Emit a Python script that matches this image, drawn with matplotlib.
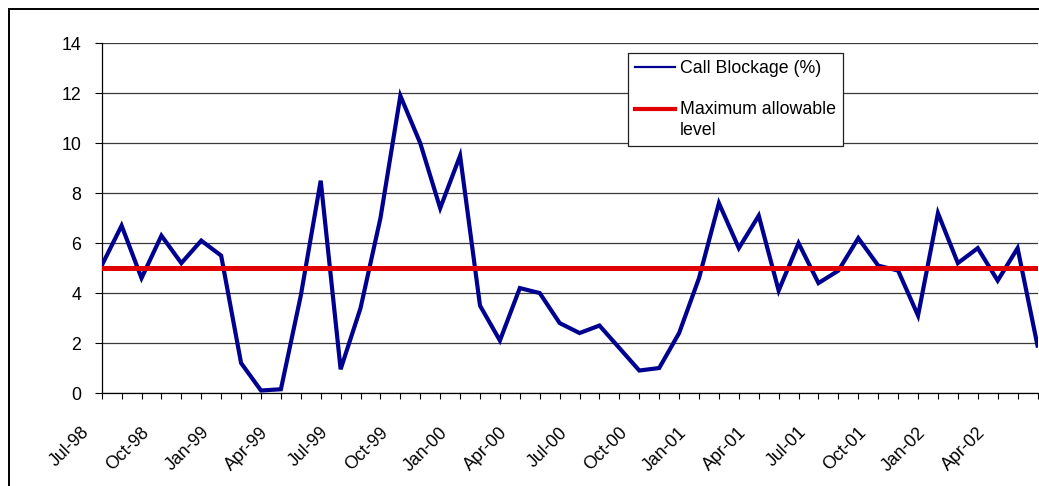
import matplotlib
matplotlib.use('Agg')
import matplotlib.pyplot as plt
from matplotlib.lines import Line2D
from matplotlib.legend_handler import HandlerLine2D
from matplotlib.patches import Rectangle

plt.rcParams['font.family'] = ['Liberation Sans', 'DejaVu Sans']

# Monthly call blockage, Jul-98 .. Jun-02
blockage = [5.1, 6.7, 4.6, 6.3, 5.2, 6.1,
            5.5, 1.2, 0.1, 0.15, 3.9, 8.5, 0.95, 3.4, 7.0, 11.9, 10.0, 7.4,
            9.5, 3.5, 2.1, 4.2, 4.0, 2.8, 2.4, 2.7, 1.8, 0.9, 1.0, 2.4,
            4.6, 7.6, 5.8, 7.1, 4.1, 6.0, 4.4, 4.9, 6.2, 5.1, 4.9, 3.1,
            7.2, 5.2, 5.8, 4.5, 5.8, 1.9]
max_level = 5
quarter_labels = ['Jul-98', 'Oct-98', 'Jan-99', 'Apr-99', 'Jul-99', 'Oct-99',
                  'Jan-00', 'Apr-00', 'Jul-00', 'Oct-00', 'Jan-01', 'Apr-01',
                  'Jul-01', 'Oct-01', 'Jan-02', 'Apr-02']
y_ticks = [0, 2, 4, 6, 8, 10, 12, 14]

FS = 12.8
W, H = 1039, 486
fig = plt.figure(figsize=(W / 100, H / 100), dpi=100)
ax = fig.add_axes([101.7 / W, 93 / H, (1037.5 - 101.7) / W, 349.7 / H])

months = list(range(len(blockage)))
ax.plot(months, blockage, color='#000090', lw=3.0, solid_joinstyle='miter',
        zorder=3)
ax.axhline(max_level, color='#e00000', lw=3.6, zorder=4)

ax.set_xlim(0, len(blockage) - 1)
ax.set_ylim(0, 14)
ax.set_yticks(y_ticks)
ax.set_xticks(months)
ax.set_xticklabels([])
ax.grid(axis='y', color='#3a3a3a', lw=0.9)
ax.set_axisbelow(True)
for side in ('top', 'right'):
    ax.spines[side].set_visible(False)
for side in ('left', 'bottom'):
    ax.spines[side].set_linewidth(0.9)
ax.tick_params(axis='x', direction='out', length=4.3, width=0.8)
ax.tick_params(axis='y', direction='out', length=4.8, width=0.8, pad=10,
               labelsize=FS)

# quarterly labels, slanted, hanging below the tick
for i, lab in zip(range(0, len(blockage), 3), quarter_labels):
    ax.annotate(lab, xy=(i, 0), xycoords=('data', 'axes fraction'),
                xytext=(-10.6, -26.6), textcoords='offset points',
                rotation=45, ha='right', va='center',
                rotation_mode='anchor', fontsize=FS)


def raise_to_first_line(legend_handle, orig_handle):
    legend_handle.update_from(orig_handle)
    legend_handle.set_ydata([y + 7.9 for y in legend_handle.get_ydata()])


h_blue = Line2D([], [], color='#000090', lw=1.6)
h_red = Line2D([], [], color='#e00000', lw=3.0)
leg = fig.legend([h_blue, h_red], ['Call Blockage (%)', 'Maximum allowable\nlevel'],
                 loc='upper left', bbox_to_anchor=(628 / W, 1 - 53.3 / H),
                 borderaxespad=0, fontsize=FS, frameon=True, fancybox=False,
                 edgecolor='#202020', framealpha=1, borderpad=0.4,
                 handlelength=2.25, handletextpad=0.25, labelspacing=1.3,
                 handler_map={h_red: HandlerLine2D(update_func=raise_to_first_line)})
leg.get_frame().set_linewidth(0.9)
leg.get_texts()[1].set_linespacing(1.35)

# outer chart border
fig.patches.append(Rectangle((9 / W, -0.1), 1.2, 1.1 - 8.7 / H, transform=fig.transFigure,
                             fill=False, edgecolor='black', lw=1.4))

fig.savefig('out.png', dpi=100)
